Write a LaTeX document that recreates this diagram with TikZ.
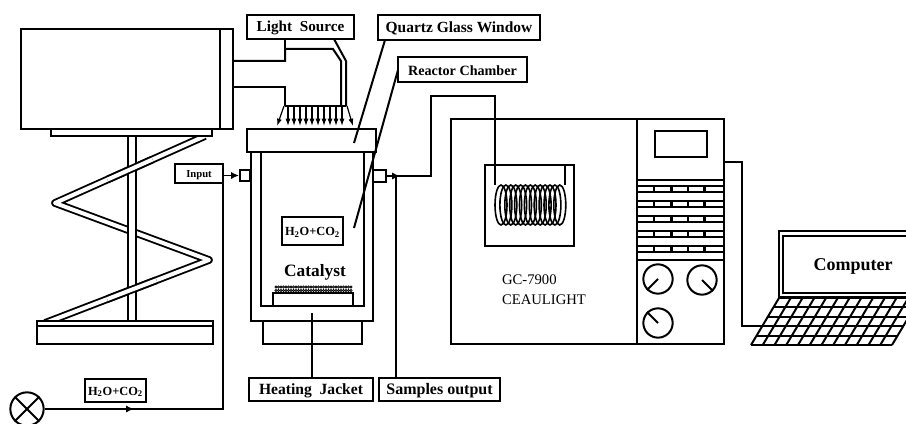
\documentclass[tikz,border=0pt]{standalone}
\usepackage{fontspec}
\setmainfont{Liberation Serif}
\usetikzlibrary{fit,calc,arrows.meta}
\tikzset{x=0.75pt, y=-0.75pt, >=latex}
\tikzset{part/.style={draw, fill=white, inner sep=0pt}}
\tikzset{band/.style={double, double distance=3pt, line width=1.4pt, line join=round}}
\tikzset{word/.style={inner sep=0pt, yshift=-1pt, font=\bfseries\fontsize{#1}{#1}\selectfont}}
\tikzset{ray/.style={-{Latex[length=5.5pt,width=3.8pt]}, line width=0.9pt}}
\tikzset{flowtip/.style={-{Latex[length=6pt,width=5.5pt]}, line width=1.2pt}}
\newcommand{\gas}{H\textsubscript{2}O+CO\textsubscript{2}}

\begin{document}
\begin{tikzpicture}[line width=1.5pt]
        \useasboundingbox (0,0) rectangle (906,424);

        \coordinate (Top)   at (205,136);
        \coordinate (AL)    at (55,203);
        \coordinate (AR)    at (209,260);
        \coordinate (Foot)  at (45,323);

        \draw[band] (Top) -- (AL) -- (AR) -- (Foot);
        \node (pole)  [part, fit={(128,136) (136,321)}] {};
        \draw[band] ($(Top)!.35!(AL)$) -- ($(Top)!.65!(AL)$);
        \draw[band] ($(AR)!.32!(Foot)$) -- ($(AR)!.62!(Foot)$);

        \node (lamp)  [part, fit={(21,29) (233,129)}] {};
        \draw (220,29) -- (220,129);
        \node (plate) [part, fit={(51,129) (212,136)}] {};
        \node (base)  [part, fit={(37,321) (213,344)}] {};
        \draw (37,326) -- (213,326);

        \node (light)  [part, fit={(247,15) (354,39)}] {};
        \node (lightT) [word=11.4] at (light.center) {Light\ \ Source};
        \node (quartz) [part, fit={(378,15) (540,40)}] {};
        \node (quartzT) [word=11.6] at (quartz.center) {Quartz Glass Window};
        \node (react)  [part, fit={(398,57) (527,82)}] {};
        \node (reactT) [word=10.6] at (react.center) {Reactor Chamber};
        \node (heat)   [part, fit={(249,378) (373,401)}] {};
        \node (heatT)  [word=11.7] at (heat.center) {Heating\ \ Jacket};
        \node (sample) [part, fit={(379,378) (500,401)}] {};
        \node (sampleT) [word=12] at (sample.center) {Samples output};
        \node (input)  [part, fit={(175,164) (223,183)}] {};
        \node (inputT) [word=8] at (input.center) {Input};
        \node (feed)   [part, fit={(85,379) (146,402)}] {};
        \node (feedT)  [word=9.3] at (feed.center) {\gas};

        \draw (233,61) -- (285,61) -- (285,49) -- (333,49) -- (341,61) -- (341,106);
        \draw (233,87) -- (285,87) -- (285,106);
        \draw (285,39) -- (285,49);
        \draw (334,39) -- (346,61) -- (346,106);
        \draw (285,106) -- (346,106);
        \foreach \x in {288,294,...,342}
          \draw[ray] (\x,106) -- (\x,126);
        \draw[ray] (284,106) -- (277,126);
        \draw[ray] (347,106) -- (353,126);

        \node (jacket)  [part, fit={(263,321) (362,344)}] {};
        \node (outer)   [part, fit={(251,152) (373,321)}] {};
        \node (inner)   [part, fit={(261,152) (364,306)}] {};
        \node (quartzw) [part, fit={(247,129) (376,152)}] {};
        \node (holder)  [part, fit={(273,293) (353,306)}] {};
        \foreach \x in {276,278.5,...,351}
          \draw[line width=0.5pt] (\x,287) circle (1.2) (\x,290.5) circle (1.2);
        \node (cat) [word=13] at (315,271) {Catalyst};
        \node (mix) [part, fit={(282,217) (343,245)}] {};
        \node (mixT) [word=9.3] at (mix.center) {\gas};

        \coordinate (qEnd) at (354,143);
        \coordinate (rEnd) at (354,228);
        \coordinate (hTop) at (311.5,313);
        \draw (385,40) -- (qEnd);
        \draw (398,70) -- (rEnd);
        \draw (hTop) -- (311.5,378);

        \node (pIn)  [part, fit={(240,170) (250,181)}] {};
        \node (pOut) [part, fit={(373,170) (386,182)}] {};
        \draw[flowtip] (input.east |- pIn) -- (pIn.west);
        \node (valve) [draw, circle, minimum size=25pt, inner sep=0pt] at (27,409) {};
        \draw (valve.north west) -- (valve.south east);
        \draw (valve.north east) -- (valve.south west);
        \coordinate (bend) at (223,409);
        \coordinate (flow) at (134,409);
        \draw (valve.east) -- (bend) -- (input.south -| bend);
        \draw[flowtip] (122,409) -- (flow);

        \node (gc)    [part, fit={(451,119) (724,344)}] {};
        \draw (637,119) -- (637,344);
        \node (disp)  [part, fit={(655,131) (707,157)}] {};
        \draw (637,180) -- (724,180);
        \draw (637,260) -- (724,260);
        \foreach \y in {189,204,219,234,249} {
          \draw (637,\y-3) -- (724,\y-3);
          \draw (637,\y+3) -- (724,\y+3);
          \foreach \x in {654,671.5,688,704.5}
            \draw[line width=1.6pt] (\x,\y-3) -- (\x,\y+3);
        }
        \node (d1) [draw, circle, minimum size=22pt, inner sep=0pt] at (658,279) {};
        \node (d2) [draw, circle, minimum size=22pt, inner sep=0pt] at (702,280) {};
        \node (d3) [draw, circle, minimum size=22pt, inner sep=0pt] at (658,323) {};
        \draw (d1.center) -- (d1.south west);
        \draw (d2.center) -- (d2.south east);
        \draw (d3.north west) -- (d3.center);

        \node (oven) [part, fit={(485,165) (574,246)}] {};
        \foreach \x in {501,505.9,...,560}
          \draw[line width=1.2pt] (\x,205) ellipse (6 and 20);
        \draw (pOut.east) -- (431,176) -- (431,96) -- (495,96) -- (495,185);
        \draw (565,165) -- (565,185);
        \coordinate (sMark) at (400,176);
        \draw[flowtip] (389,176) -- (sMark);
        \draw (396,176) -- (396,378);
        \node (gcname) at (501,280) [anchor=west, inner sep=0pt, font=\fontsize{11}{11}\selectfont] {GC-7900};
        \node (gcmake) at (501,300) [anchor=west, inner sep=0pt, font=\fontsize{11}{11}\selectfont] {CEAULIGHT};

        \draw (724,162) -- (742,162) -- (742,326) -- (764,326);
        \begin{scope}
          \clip (740,225) rectangle (906,350);
          \foreach \i in {0,...,5}
            \draw (779-\i*5.6,298+\i*9.4) -- ++(141,0);
          \foreach \j in {0,...,12}
            \draw (779+\j*11.75,298) -- (751+\j*11.75,345);
        \end{scope}
        \draw (906,231) -- (779,231) -- (779,297) -- (906,297);
        \draw (906,236) -- (783,236) -- (783,293) -- (906,293);
        \node (pc) [word=13.5] at (853,265) {Computer};
      \end{tikzpicture}
\end{document}
